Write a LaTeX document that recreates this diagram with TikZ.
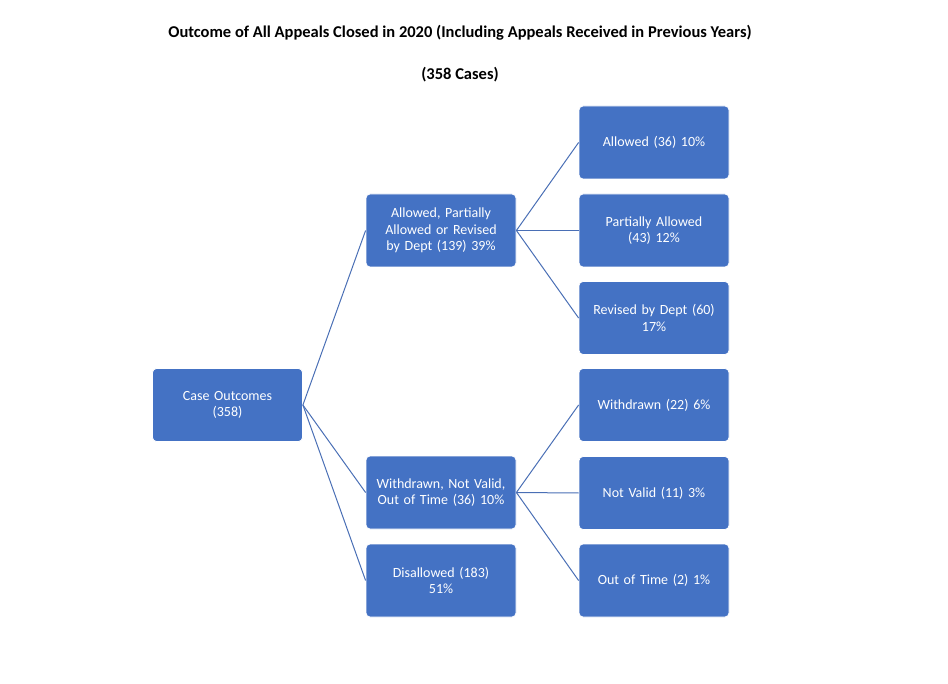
\documentclass[tikz,border=0pt]{standalone}
\usepackage{fontspec}
\setmainfont{Carlito}
\definecolor{boxblue}{HTML}{4472C4}
\definecolor{linkblue}{HTML}{4A6FB5}
\begin{document}
\begin{tikzpicture}[x=1pt,y=-1pt,
  box/.style={draw=white,line width=0.8pt,fill=boxblue,rounded corners=4pt,minimum width=150pt,minimum height=73pt,text width=142pt,align=center,text=white,font=\fontsize{14}{16.5}\selectfont},
  link/.style={draw=linkblue,line width=1pt}]
\useasboundingbox (0,0) rectangle (948,684);
\node[font=\bfseries\fontsize{16.5}{19}\selectfont] (title) at (460,33) {Outcome of All Appeals Closed in 2020 (Including Appeals Received in Previous Years)};
\node[font=\bfseries\fontsize{16.5}{19}\selectfont] (sub) at (460,75) {(358 Cases)};
\node[box] (root) at (227.5,405) {Case Outcomes\\(358)};
\node[box] (ga) at (441,230.5) {Allowed, Partially Allowed or Revised by Dept (139) 39\%};
\node[box] (gw) at (441,492.5) {Withdrawn, Not Valid, Out of Time (36) 10\%};
\node[box] (gd) at (441,580.5) {Disallowed (183)\\51\%};
\node[box] (a1) at (654,142.5) {Allowed (36) 10\%};
\node[box] (a2) at (654,230.5) {Partially Allowed\\(43) 12\%};
\node[box] (a3) at (654,318) {Revised by Dept (60)\\17\%};
\node[box] (w1) at (654,405) {Withdrawn (22) 6\%};
\node[box] (w2) at (654,493) {Not Valid (11) 3\%};
\node[box] (w3) at (654,580.5) {Out of Time (2) 1\%};
\foreach \t in {ga,gw,gd} \draw[link] (root.east) -- (\t.west);
\foreach \t in {a1,a2,a3} \draw[link] (ga.east) -- (\t.west);
\foreach \t in {w1,w2,w3} \draw[link] (gw.east) -- (\t.west);
\end{tikzpicture}
\end{document}
